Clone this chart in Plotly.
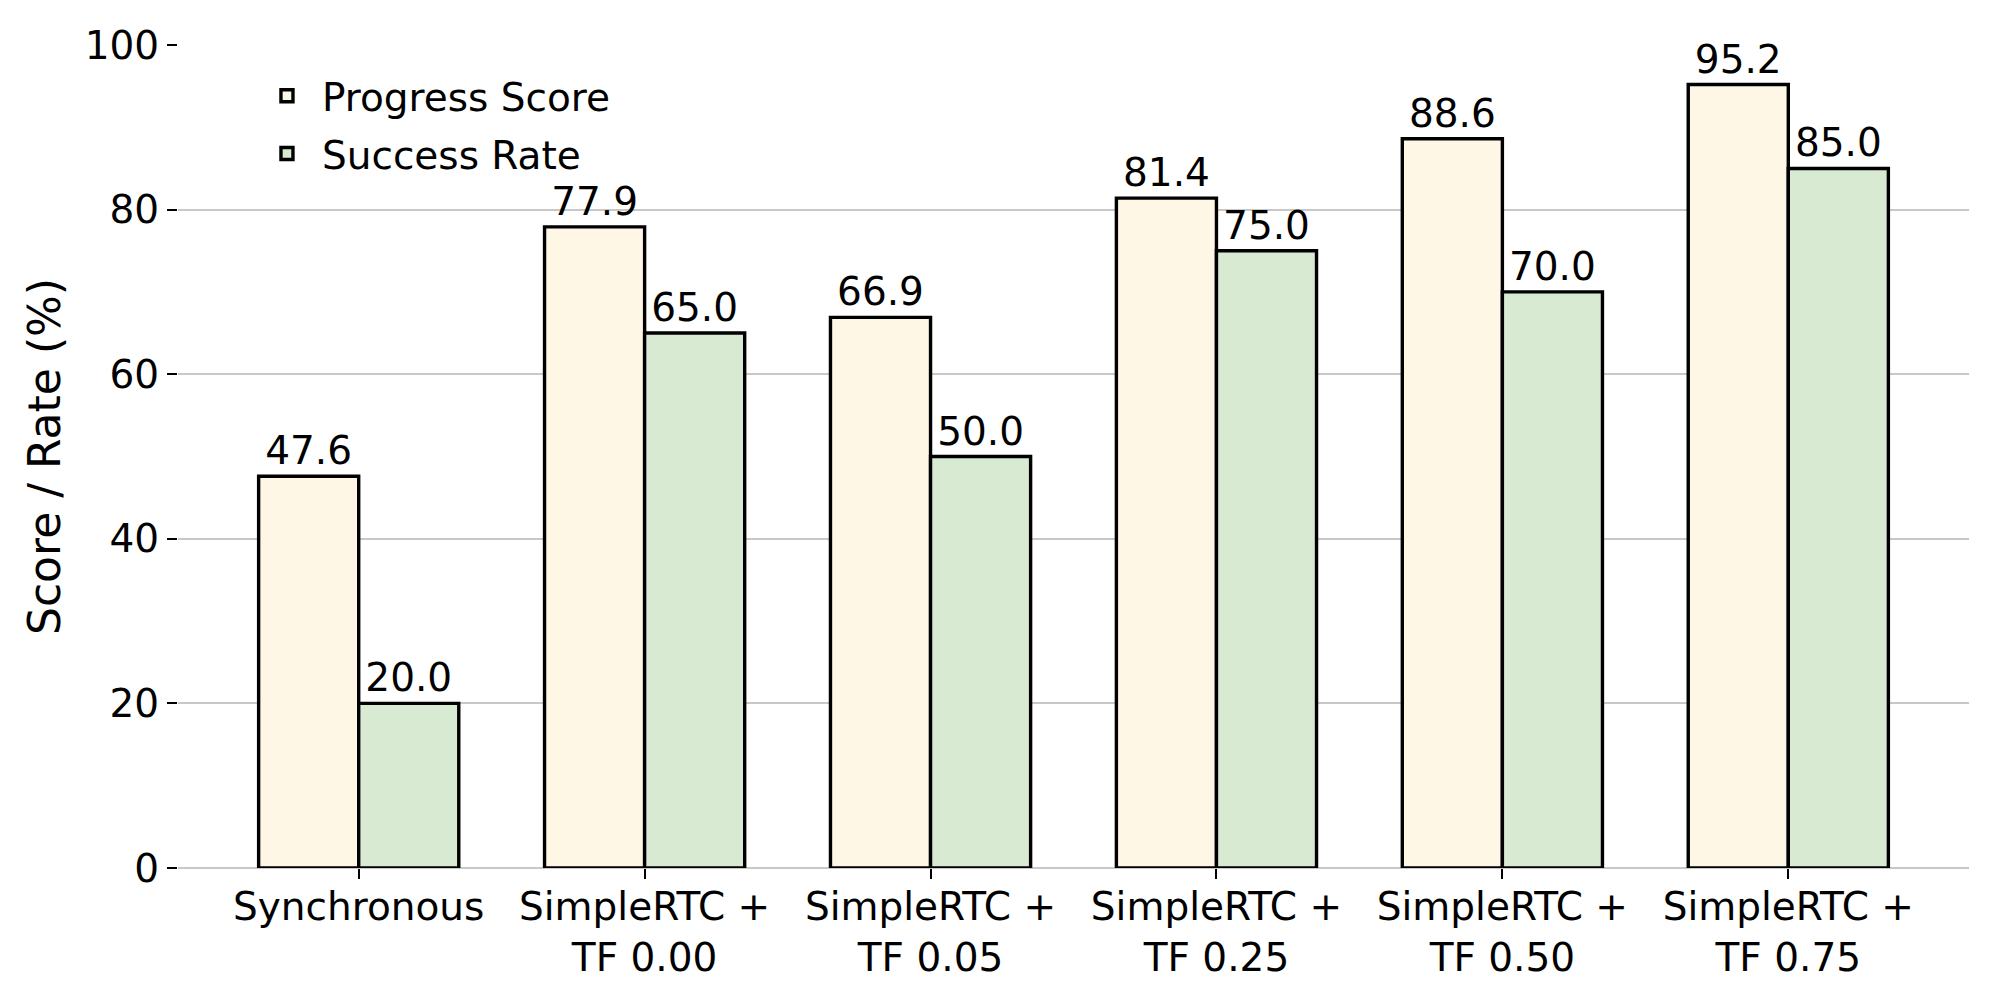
import plotly.graph_objects as go

categories = ["Synchronous", "SimpleRTC +<br>TF 0.00", "SimpleRTC +<br>TF 0.05",
              "SimpleRTC +<br>TF 0.25", "SimpleRTC +<br>TF 0.50", "SimpleRTC +<br>TF 0.75"]
progress_score = [47.6, 77.9, 66.9, 81.4, 88.6, 95.2]
success_rate = [20.0, 65.0, 50.0, 75.0, 70.0, 85.0]
y_ticks = [0, 20, 40, 60, 80, 100]

FONT = "DejaVu Sans"
FS = 39
x_idx = list(range(len(categories)))

fig = go.Figure()
fig.add_trace(go.Bar(
    x=x_idx, y=progress_score, name="Progress Score", legendgroup="p",
    marker=dict(color="#FFF7E6", line=dict(color="black", width=3.4)),
    texttemplate="%{y:.1f}", textposition="outside", cliponaxis=False,
    constraintext="none", textfont=dict(size=FS, color="black", family=FONT),
))
fig.add_trace(go.Bar(
    x=x_idx, y=success_rate, name="Success Rate", legendgroup="s",
    marker=dict(color="#D9EAD3", line=dict(color="black", width=3.4)),
    texttemplate="%{y:.1f}", textposition="outside", cliponaxis=False,
    constraintext="none", textfont=dict(size=FS, color="black", family=FONT),
))

fig.update_layout(
    width=1992, height=992,
    barmode="group", bargap=0.3, bargroupgap=0,
    plot_bgcolor="white", paper_bgcolor="white",
    font=dict(family=FONT, size=FS, color="black"),
    margin=dict(l=170, r=31, t=37, b=132),
    showlegend=True,
    legend=dict(x=0.0413, y=0.977, xanchor="left", yanchor="top",
                bgcolor="rgba(0,0,0,0)", font=dict(size=FS, family=FONT),
                itemwidth=60, tracegroupgap=4),
    xaxis=dict(
        tickmode="array", tickvals=x_idx, ticktext=categories,
        range=[-0.632, 5.632], showgrid=False, zeroline=False, showline=False,
        ticks="outside", ticklen=10, tickwidth=2, tickcolor="black",
        ticklabelstandoff=-6,
        tickfont=dict(size=FS, family=FONT),
    ),
    yaxis=dict(
        range=[0, 100], tickvals=y_ticks, showgrid=True,
        gridcolor="#C8C8C8", gridwidth=2,
        zeroline=True, zerolinecolor="#C8C8C8", zerolinewidth=2,
        showline=False, ticks="outside", ticklen=10, tickwidth=2, tickcolor="black",
        tickfont=dict(size=FS, family=FONT),
        title=dict(text="Score / Rate (%)", font=dict(size=44, family=FONT), standoff=10),
    ),
)

fig.write_html("out.html")
